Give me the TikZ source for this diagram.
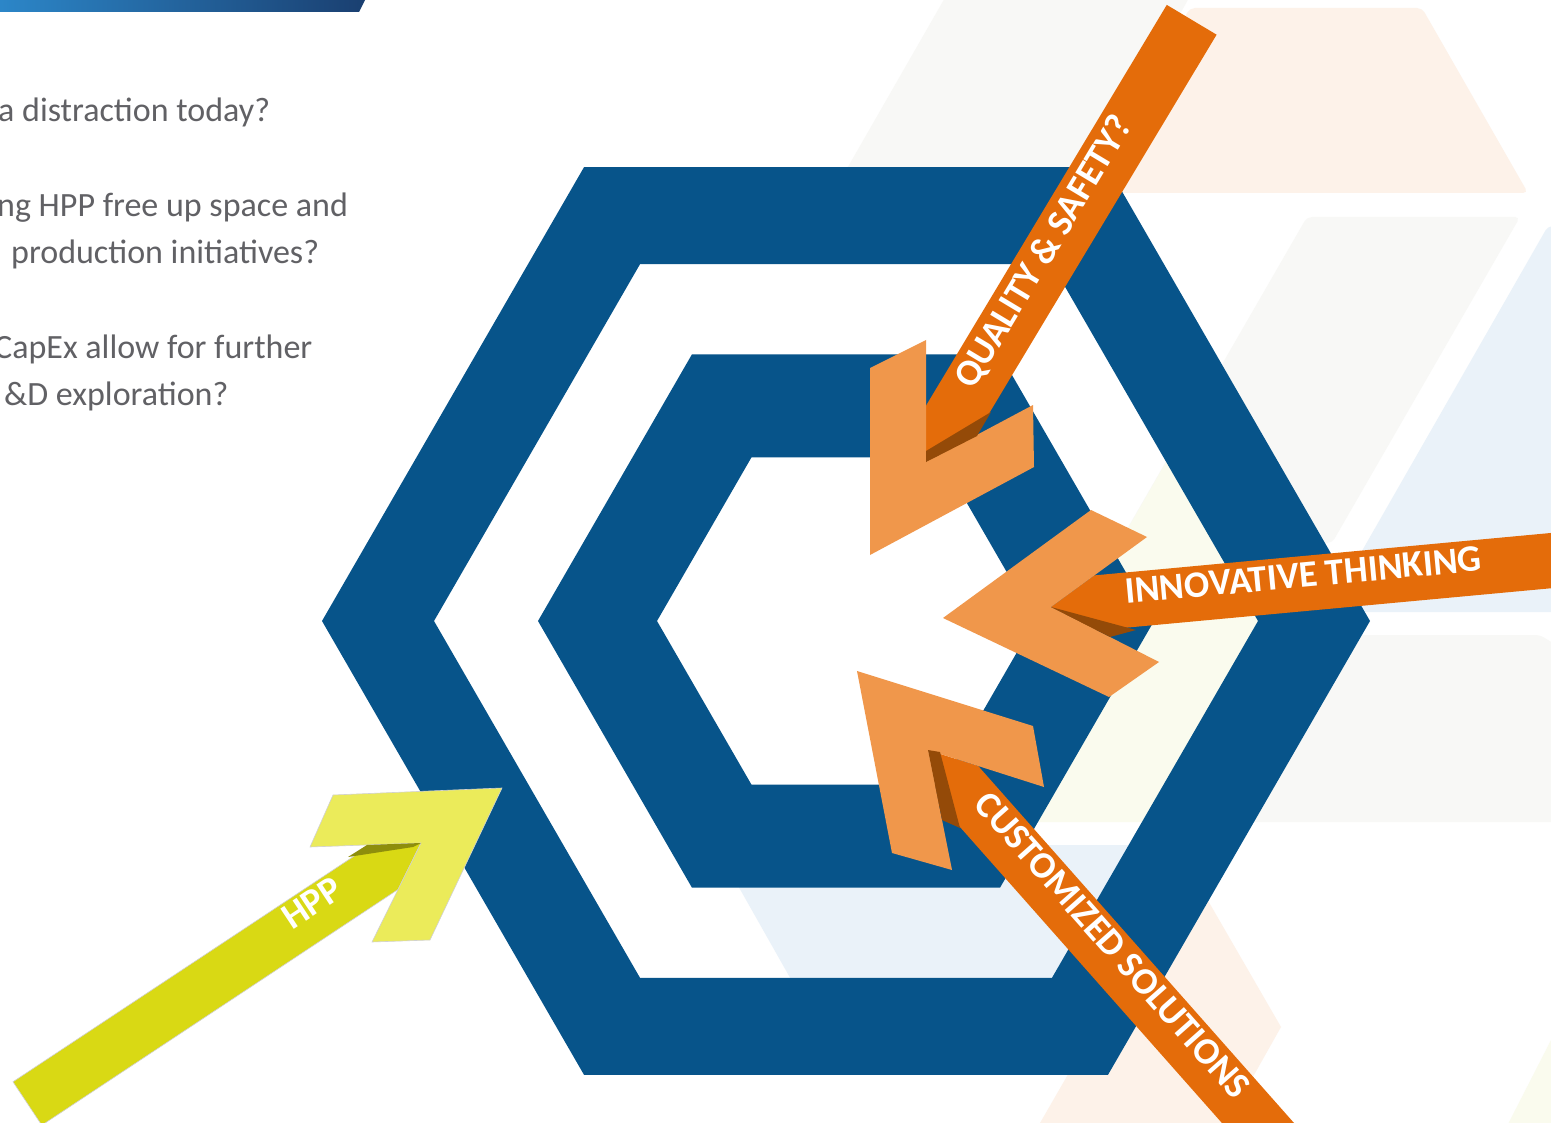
\documentclass[tikz,border=0pt]{standalone}
\usepackage{fontspec}
\setmainfont{Carlito}
\definecolor{ringblue}{HTML}{07548A}
\definecolor{bandorange}{HTML}{E46C0A}
\definecolor{headorange}{HTML}{F0974B}
\definecolor{foldorange}{HTML}{944A08}
\definecolor{hppband}{HTML}{D9D914}
\definecolor{hpphead}{HTML}{EBEB5A}
\definecolor{hppfold}{HTML}{8E8E0C}
\definecolor{qgrey}{HTML}{616165}
\definecolor{bggrey}{HTML}{F8F8F6}
\definecolor{bgpeach}{HTML}{FDF2E9}
\definecolor{bgcream}{HTML}{FAFBEE}
\definecolor{bgblue}{HTML}{EAF2F9}
\definecolor{barlight}{HTML}{2C87C9}
\definecolor{bardark}{HTML}{1A3F70}
\begin{document}
\begin{tikzpicture}[x=1pt,y=-1pt,
  bgshape/.style={rounded corners=5pt},
  band/.style={fill=bandorange},
  head/.style={fill=headorange},
  fold/.style={fill=foldorange},
  hppbandstyle/.style={fill=hppband, draw=black!18, line width=0.6pt},
  hppheadstyle/.style={fill=hpphead, draw=black!18, line width=0.6pt},
  question/.style={font=\fontsize{34}{40}\selectfont, text=qgrey, inner sep=0pt, anchor=base west},
  bandtext/.style={font=\fontsize{37.5}{40}\selectfont\bfseries, text=white, inner sep=0pt,
                   text height=0.63em, text depth=0pt, anchor=center}]
\useasboundingbox (0,0) rectangle (1551,1123);
\fill[white] (0,0) rectangle (1551,1123);

% faint honeycomb backdrop
\fill[bggrey, bgshape] (946,-4) -- (1190,-4) -- (1110,140) -- (1100,200) -- (829,200) -- cycle;
\fill[bgpeach, bgshape] (1190,8) -- (1422,8) -- (1528,193) -- (1083,193) -- cycle;
\fill[bggrey, bgshape] (1307,217) -- (1520,217) -- (1332,543) -- (1119,543) -- cycle;
\fill[bgblue, bgshape] (1548,226) -- (1580,226) -- (1580,612) -- (1327,612) -- cycle;
\fill[bggrey, bgshape] (1265,635) -- (1540,635) -- (1580,660) -- (1580,822) -- (1165,822) -- cycle;
\fill[bgcream] (1169,457) -- (1219,457) -- (1314,621) -- (1198,822) -- (1030,822) -- (1030,700) -- (1077,617) -- cycle;
\fill[bgblue] (715,845) -- (1180,845) -- (1120,990) -- (797,990) -- cycle;
\fill[bgpeach] (1188,866) -- (1281,1027) -- (1223,1130) -- (1036,1130) -- cycle;
\fill[bgcream] (1551,1040) -- (1580,1040) -- (1580,1130) -- (1505,1130) -- cycle;

% header bar
\shade[left color=barlight, right color=bardark] (-4,-4) -- (367,-4) -- (359,12) -- (-4,12) -- cycle;

% questions
\node[question] (q1) at (-2,122) {a distraction today?};
\node[question] (q2) at (-3,217) {ng HPP free up space and};
\node[question] (q3) at (11,264) {production initiatives?};
\node[question] (q4) at (-6,359) {CapEx allow for further};
\node[question] (q5) at (4,406) {\&D exploration?};

% two hexagonal rings
\fill[ringblue, even odd rule, shift={(846,621)}]
  (0:524) -- (60:524) -- (120:524) -- (180:524) -- (240:524) -- (300:524) -- cycle
  (0:412) -- (60:412) -- (120:412) -- (180:412) -- (240:412) -- (300:412) -- cycle;
\fill[ringblue, even odd rule, shift={(846,621)}]
  (0:308) -- (60:308) -- (120:308) -- (180:308) -- (240:308) -- (300:308) -- cycle
  (0:189) -- (60:189) -- (120:189) -- (180:189) -- (240:189) -- (300:189) -- cycle;

% quality & safety arrow
\coordinate (qn) at (926,462);
\fill[band] (qn) -- (926,405.7) -- (1166.8,4.9) -- (1216.6,34.7) -- (975.6,435.8) -- cycle;
\fill[head] (870,368) -- (926,340) -- (qn) -- (1033,405) -- (1034,467) -- (870,555) -- cycle;
\fill[fold] (qn) -- (926,451) -- (991,412) -- (977,436) -- cycle;
\node[bandtext, rotate=59] (lq) at (1051,256) {QUALITY \& SAFETY?};

% innovative thinking arrow
\coordinate (inn) at (1051,607);
\fill[band] (inn) -- (1094.3,575.4) -- (1570,531.2) -- (1570,586.5) -- (1096.9,630.4) -- cycle;
\fill[head] (943,618) -- (1091,510) -- (1147,537) -- (inn) -- (1159,662) -- (1109,697) -- cycle;
\fill[fold] (inn) -- (1136,630) -- (1110,637) -- cycle;
\node[bandtext, rotate=5.3] (li) at (1304,584) {INNOVATIVE THINKING};

% customized solutions arrow
\coordinate (cn) at (928,750);
\fill[band] (cn) -- (978.2,766) -- (1294.1,1123.1) -- (1253.7,1158.9) -- (938.5,802.7) -- cycle;
\fill[head] (857,671) -- (1033,726) -- (1044,787) -- (cn) -- (952,870) -- (892,853) -- cycle;
\fill[fold] (cn) -- (940,752) -- (960,828) -- (942,820) -- cycle;
\node[bandtext, rotate=-48.5] (lc) at (1106,951) {CUSTOMIZED SOLUTIONS};

% HPP arrow
\coordinate (hn) at (421,843);
\filldraw[hppbandstyle] (hn) -- (371.2,844.8) -- (13,1081.8) -- (41.8,1125.2) -- (398.1,889.4) -- cycle;
\filldraw[hppheadstyle] (333,795) -- (502,788) -- (430,940) -- (372,942) -- (hn) -- (310,847) -- cycle;
\fill[hppfold] (hn) -- (367,845) -- (348,857) -- (413,847) -- cycle;
\node[bandtext, rotate=33.5] (lh) at (317,910) {HPP};
\end{tikzpicture}
\end{document}
